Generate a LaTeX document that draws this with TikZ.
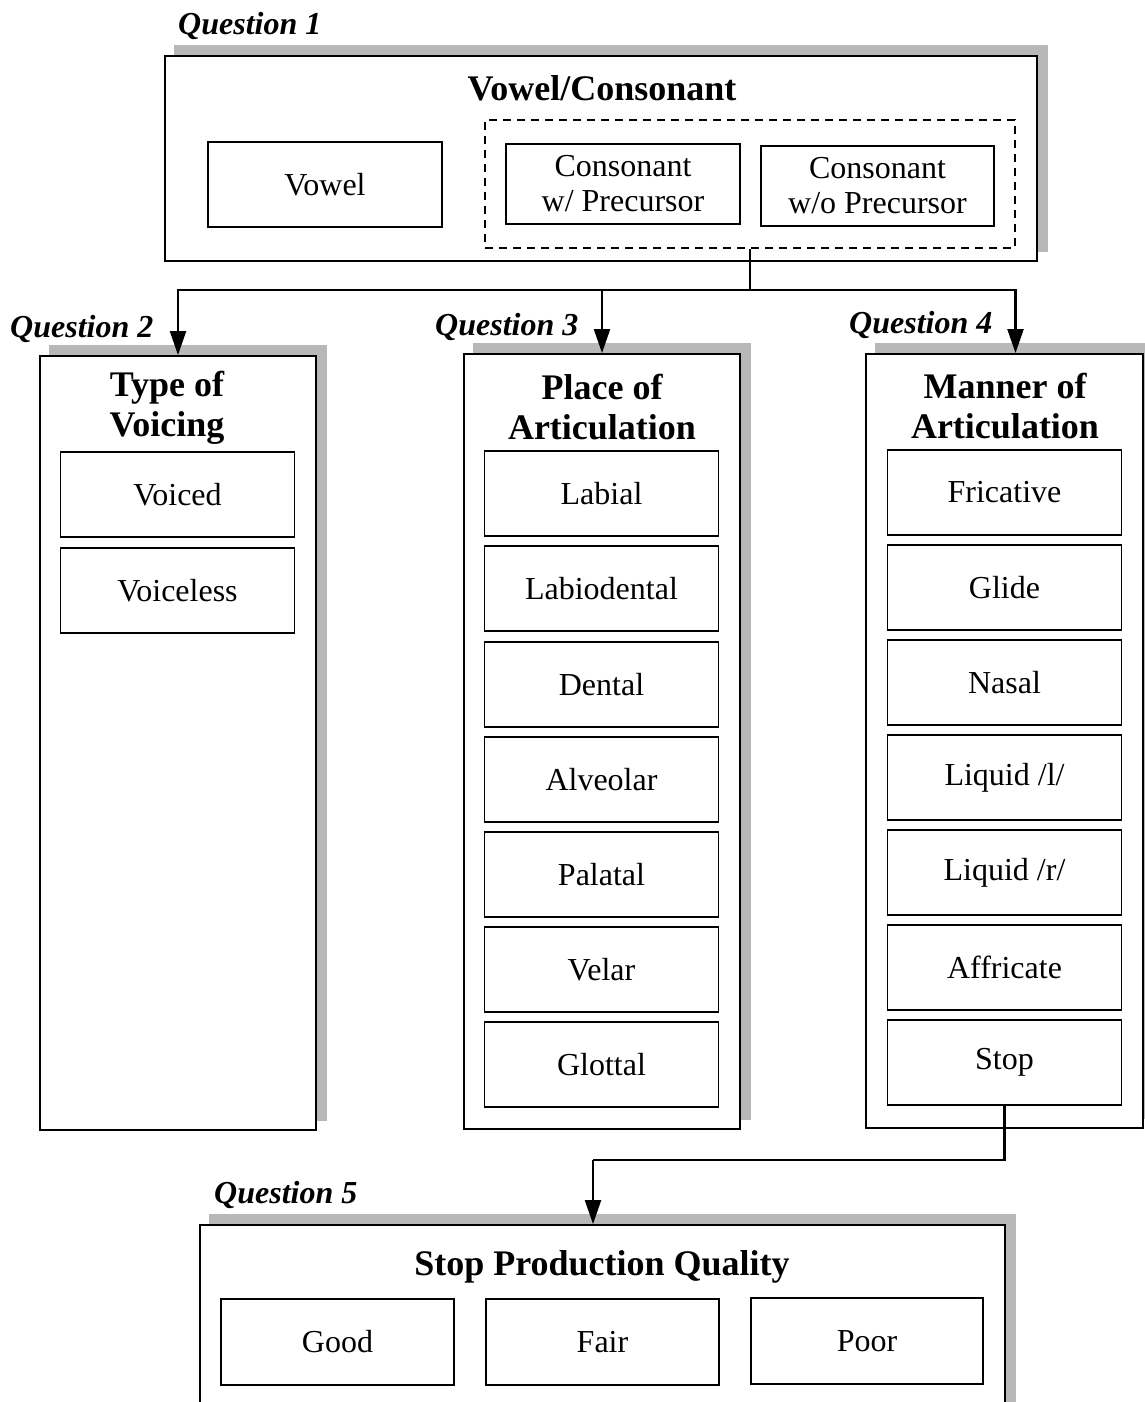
\documentclass[tikz,border=0pt]{standalone}
\usepackage{fontspec}
\setmainfont{Liberation Serif}
\usetikzlibrary{arrows.meta,calc,backgrounds}
\tikzset{
  x=1pt, y=-1pt,
  bigbox/.style={draw, line width=1.9pt, fill=white, inner sep=0pt},
  itembox/.style={draw, line width=1.7pt, fill=white, inner sep=0pt,
    minimum width=234pt, minimum height=85pt, align=center,
    font=\fontsize{32}{35}\selectfont},
  dashbox/.style={draw, line width=1.5pt, dash pattern=on 8pt off 6pt, inner sep=0pt},
  ttl/.style={font=\fontsize{36}{40}\selectfont\bfseries, align=center, inner sep=0pt},
  qlabel/.style={font=\fontsize{32}{34}\selectfont\bfseries\itshape, anchor=base west, inner sep=0pt},
  conn/.style={line width=2.2pt},
  arr/.style={line width=2.2pt, -{Triangle[width=16pt,length=24pt]}},
  shadowfill/.style={fill=black!28},
}
\begin{document}
\begin{tikzpicture}
\clip (0,0) rectangle (1144,1402);

% Question 1
\node[qlabel] (ql1) at (178,35) {Question 1};
\node[bigbox, minimum width=872pt, minimum height=205pt] (q1) at (601,158.5) {};
\node[ttl] (t1) at (602,88) {Vowel/Consonant};
\node[itembox] (vowel) at (325,184.5) {Vowel};
\node[dashbox, minimum width=530pt, minimum height=128pt] (cons) at (750,184) {};
\node[itembox, minimum height=80pt] (cwp) at (623,184) {Consonant\\w/ Precursor};
\node[itembox, minimum width=233pt, minimum height=80pt] (cwop) at (877.5,186) {Consonant\\w/o Precursor};

% Question 2
\node[qlabel] (ql2) at (10,337) {Question 2};
\node[bigbox, minimum width=276pt, minimum height=774pt] (q2) at (178,743) {};
\node[ttl] (t2) at (167,408) {Type of\\Voicing};
\node[itembox] (voiced) at (177.5,494.5) {Voiced};
\node[itembox] (voiceless) at (177.5,590.5) {Voiceless};

% Question 3
\node[qlabel] (ql3) at (435,335) {Question 3};
\node[bigbox, minimum width=276pt, minimum height=775pt] (q3) at (602,741.5) {};
\node[ttl] (t3) at (602,407) {Place of\\Articulation};
\node[itembox] (labial) at (601.5,493.5) {Labial};
\node[itembox] (labiodental) at (601.5,588.5) {Labiodental};
\node[itembox] (dental) at (601.5,684.5) {Dental};
\node[itembox] (alveolar) at (601.5,779.5) {Alveolar};
\node[itembox] (palatal) at (601.5,874.5) {Palatal};
\node[itembox] (velar) at (601.5,969.5) {Velar};
\node[itembox] (glottal) at (601.5,1064.5) {Glottal};

% Question 4
\node[qlabel] (ql4) at (849,333) {Question 4};
\node[bigbox, minimum width=277pt, minimum height=774pt] (q4) at (1004.5,741) {};
\node[ttl] (t4) at (1005,406) {Manner of\\Articulation};
\node[itembox] (fricative) at (1004.5,492.5) {Fricative};
\node[itembox] (glide) at (1004.5,587.5) {Glide};
\node[itembox] (nasal) at (1004.5,682.5) {Nasal};
\node[itembox] (liql) at (1004.5,777.5) {Liquid /l/};
\node[itembox] (liqr) at (1004.5,872.5) {Liquid /r/};
\node[itembox] (affricate) at (1004.5,967.5) {Affricate};
\node[itembox] (stop) at (1004.5,1062.5) {Stop};

% Question 5
\node[qlabel] (ql5) at (214,1203) {Question 5};
\node[bigbox, minimum width=805pt, minimum height=195pt] (q5) at (602.5,1322.5) {};
\node[ttl] (t5) at (602,1267) {Stop Production Quality};
\node[itembox, minimum width=233pt, minimum height=86pt] (good) at (337.5,1342) {Good};
\node[itembox, minimum width=233pt, minimum height=86pt] (fair) at (602.5,1342) {Fair};
\node[itembox, minimum width=232pt, minimum height=86pt] (poor) at (867,1341) {Poor};

% page background and shadows
\begin{scope}[on background layer]
  \fill[white] (0,0) rectangle (1144,1402);
  \foreach \b in {q1,q2,q3,q4,q5}{
    \fill[shadowfill] ($(\b.south west)+(10,-10)$) rectangle ($(\b.north east)+(10,-10)$);
  }
\end{scope}

% connectors
\coordinate (j) at (750,290);
\coordinate (q4in) at ($(q4.north)+(11,0)$);
\coordinate (k) at (593,1160);
\draw[conn] (cons.south) -- (j);
\draw[arr] (j) -| (q2.north);
\draw[arr] (j) -| (q3.north);
\draw[arr] (j) -| (q4in);
\draw[conn] (stop.south) |- (k);
\draw[arr] (k) -- (k |- q5.north);
\end{tikzpicture}
\end{document}
